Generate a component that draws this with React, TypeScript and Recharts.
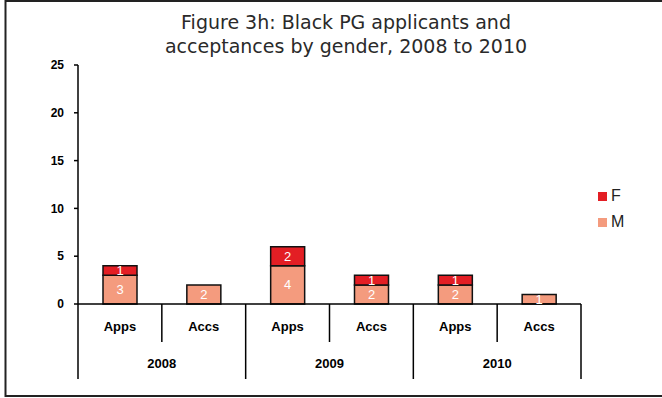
import React from 'react';
import { BarChart, Bar, XAxis, YAxis, LabelList } from 'recharts';

// Stage of the admissions process and the year it belongs to
const stages = ['Apps', 'Accs', 'Apps', 'Accs', 'Apps', 'Accs'];
const years = ['2008', '2008', '2009', '2009', '2010', '2010'];
// Counts by gender
const male = [3, 2, 4, 2, 2, 1];
const female = [1, 0, 2, 1, 1, 0];
const yTicks = [0, 5, 10, 15, 20, 25];

const data = stages.map((s, i) => ({ stage: s, year: years[i], M: male[i], F: female[i] }));

const W = 662;
const H = 398;
const xAxisHeight = 30;
const margin = { top: 65, right: 81, bottom: 94 - xAxisHeight, left: 0 };
const yAxisWidth = 78;
const plotLeft = margin.left + yAxisWidth;
const plotRight = W - margin.right;
const plotBottom = H - margin.bottom - xAxisHeight;
const bandWidth = (plotRight - plotLeft) / stages.length;

const COLOR_F = '#E31E24';
const COLOR_M = '#F49B7E';
const axisFont = '"Liberation Sans", Arial, sans-serif';

// Two-level category axis: stage label per bar, year label per pair, with divider lines
const StageTick = (props: any) => {
  const { x, index, payload } = props;
  const y0 = plotBottom;
  const left = x - bandWidth / 2;
  const right = x + bandWidth / 2;
  const endOfYear = index % 2 === 1;
  return (
    <g>
      {index === 0 && <line x1={left} y1={y0} x2={left} y2={y0 + 75} stroke="#000" strokeWidth={1.5} />}
      <line x1={right} y1={y0} x2={right} y2={y0 + (endOfYear ? 75 : 38)} stroke="#000" strokeWidth={1.5} />
      <text x={x} y={y0 + 27} textAnchor="middle" fontFamily={axisFont} fontWeight="bold" fontSize={13} fill="#000">
        {payload.value}
      </text>
      {!endOfYear && (
        <text x={right} y={y0 + 64} textAnchor="middle" fontFamily={axisFont} fontWeight="bold" fontSize={13} fill="#000">
          {years[index]}
        </text>
      )}
    </g>
  );
};

const labelFmt = (v: any) => (v > 0 ? String(v) : '');

export default function App() {
  return (
    <div style={{ position: 'absolute', left: 0, top: 0, width: W, height: H, background: '#fff' }}>
      <svg width={W} height={H} style={{ position: 'absolute', left: 0, top: 0 }}>
        <rect x={5.5} y={1} width={W + 10} height={395} fill="#fff" stroke="#222" strokeWidth={2} />
      </svg>
      <div
        style={{
          position: 'absolute',
          left: 0,
          width: 692,
          top: 10,
          textAlign: 'center',
          fontFamily: '"DejaVu Sans", Verdana, sans-serif',
          fontSize: 19,
          lineHeight: '24px',
          color: '#2a2a2a',
        }}
      >
        Figure 3h: Black PG applicants and
        <br />
        acceptances by gender, 2008 to 2010
      </div>
      <div style={{ position: 'absolute', left: 0, top: 0 }}>
        <BarChart width={W} height={H} data={data} margin={margin} barSize={34}>
          <XAxis
            dataKey="stage"
            height={xAxisHeight}
            axisLine={{ stroke: '#000', strokeWidth: 1.5 }}
            tickLine={false}
            interval={0}
            tick={<StageTick />}
          />
          <YAxis
            width={yAxisWidth}
            domain={[0, 25]}
            ticks={yTicks}
            axisLine={{ stroke: '#000', strokeWidth: 1.5 }}
            tickLine={{ stroke: '#000', strokeWidth: 1.5 }}
            tickSize={4}
            tickMargin={10}
            tick={{ fontFamily: axisFont, fontWeight: 'bold', fontSize: 12, fill: '#000' }}
          />
          <Bar dataKey="M" stackId="g" fill={COLOR_M} stroke="#111" strokeWidth={1.5} isAnimationActive={false}>
            <LabelList dataKey="M" position="center" formatter={labelFmt} fill="#fff" fontSize={13} fontFamily={axisFont} />
          </Bar>
          <Bar dataKey="F" stackId="g" fill={COLOR_F} stroke="#111" strokeWidth={1.5} isAnimationActive={false}>
            <LabelList dataKey="F" position="center" formatter={labelFmt} fill="#fff" fontSize={13} fontFamily={axisFont} />
          </Bar>
        </BarChart>
      </div>
      {/* legend: F above M */}
      <div style={{ position: 'absolute', left: 598, top: 183, fontFamily: axisFont, fontSize: 16, color: '#222' }}>
        {[
          { name: 'F', color: COLOR_F },
          { name: 'M', color: COLOR_M },
        ].map((item) => (
          <div key={item.name} style={{ display: 'flex', alignItems: 'center', height: 26 }}>
            <span style={{ width: 9, height: 9, background: item.color, display: 'inline-block', marginRight: 4 }} />
            <span>{item.name}</span>
          </div>
        ))}
      </div>
    </div>
  );
}
